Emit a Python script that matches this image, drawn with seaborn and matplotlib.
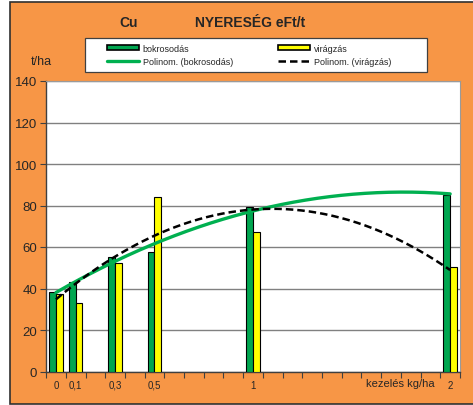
import numpy as np
import pandas as pd
import matplotlib
matplotlib.use("Agg")
import matplotlib.pyplot as plt
import seaborn as sns
from matplotlib.patches import Patch, Rectangle
from matplotlib.lines import Line2D

# data
doses = [0, 0.1, 0.3, 0.5, 1, 2]
dose_labels = ["0", "0,1", "0,3", "0,5", "1", "2"]
bokrosodas = [38.4, 43.3, 55.2, 57.5, 79.4, 85.3]
viragzas = [37.5, 33.0, 52.5, 84.0, 67.4, 50.5]

ORANGE = "#F79646"
GREEN = "#00A650"
GREEN_LINE = "#00B050"
YELLOW = "#FFFF00"

sns.set_theme(style="white")
plt.rcParams["font.family"] = ["Liberation Sans", "DejaVu Sans"]

df = pd.DataFrame({
    "dose": doses * 2,
    "value": bokrosodas + viragzas,
    "series": ["bokrosodás"] * len(doses) + ["virágzás"] * len(doses),
})

fig = plt.figure(figsize=(4.73, 4.06), dpi=100)
fig.patch.set_facecolor("white")
fig.add_artist(Rectangle((10 / 473, 1.5 / 406), 1.0, 1 - 4.5 / 406,
                         transform=fig.transFigure, facecolor=ORANGE,
                         edgecolor="#303030", lw=1.2, zorder=-10))

ax = fig.add_axes([45.7 / 473, 1 - 372.5 / 406, (460 - 45.7) / 473, (372.5 - 82) / 406])
ax.set_facecolor("white")

sns.barplot(data=df, x="dose", y="value", hue="series", native_scale=True,
            palette=[GREEN, YELLOW], saturation=1, width=0.68, dodge=True,
            edgecolor="black", linewidth=0.8, legend=False, ax=ax, zorder=3)

# second order trendlines (Excel "Polinom.")
xs = np.linspace(0, 2, 200)
fit_b = np.polyval(np.polyfit(doses, bokrosodas, 2), xs)
fit_v = np.polyval(np.polyfit(doses, viragzas, 2), xs)
sns.lineplot(x=xs, y=fit_b, color=GREEN_LINE, lw=2.4, ax=ax, zorder=4)
sns.lineplot(x=xs, y=fit_v, color="black", lw=1.8, ls=(0, (3, 1.6)), ax=ax, zorder=5)

ax.set_xlim(-0.052, 2.05)
ax.set_ylim(0, 140)
ax.set_yticks(range(0, 141, 20))
ax.tick_params(axis="y", labelsize=9.5, length=4, width=0.8, color="#404040",
               direction="out", left=True, pad=2)
ax.set_xticks(doses)
ax.set_xticklabels(dose_labels)
ax.tick_params(axis="x", which="major", length=0, labelsize=7, pad=6)
ax.set_xticks(np.arange(-0.05, 2.06, 0.1), minor=True)
ax.tick_params(axis="x", which="minor", length=4, width=0.8, color="#404040",
               direction="out", bottom=True)
ax.yaxis.grid(True, color="#808080", lw=1)
ax.set_axisbelow(True)
ax.set_xlabel("")
ax.set_ylabel("")
for s in ["top", "right"]:
    ax.spines[s].set_color("#9a9a9a")
    ax.spines[s].set_linewidth(0.8)
for s in ["left", "bottom"]:
    ax.spines[s].set_color("#404040")
    ax.spines[s].set_linewidth(1.0)

fig.text(129 / 473, 1 - 23 / 406, "Cu", ha="center", va="center",
         fontsize=10, fontweight="bold")
fig.text(250 / 473, 1 - 23 / 406, "NYERESÉG eFt/t", ha="center", va="center",
         fontsize=10, fontweight="bold")
fig.text(41 / 473, 1 - 62 / 406, "t/ha", ha="center", va="center", fontsize=9)
fig.text(400 / 473, 1 - 384 / 406, "kezelés kg/ha", ha="center", va="center",
         fontsize=8)

# legend box
fig.add_artist(Rectangle((85 / 473, 1 - 73 / 406), 342 / 473, 34 / 406,
                         transform=fig.transFigure, facecolor="white",
                         edgecolor="#404040", lw=0.9, zorder=5))
handles = [
    Patch(facecolor=GREEN, edgecolor="black", lw=1.2),
    Line2D([], [], color=GREEN_LINE, lw=2.4),
    Patch(facecolor=YELLOW, edgecolor="black", lw=1.2),
    Line2D([], [], color="black", lw=1.8, ls=(0, (3, 1.6))),
]
labels = ["bokrosodás", "Polinom. (bokrosodás)", "virágzás", "Polinom. (virágzás)"]
leg = fig.legend(handles, labels, ncol=2, loc="center left",
                 bbox_to_anchor=(107 / 473, 1 - 56 / 406),
                 fontsize=6.5, frameon=False, handlelength=3.5,
                 handleheight=0.5, handletextpad=0.45, borderpad=0,
                 columnspacing=5.0, labelspacing=0.5, borderaxespad=0)
leg.set_zorder(6)

fig.savefig("out.png", dpi=100)
